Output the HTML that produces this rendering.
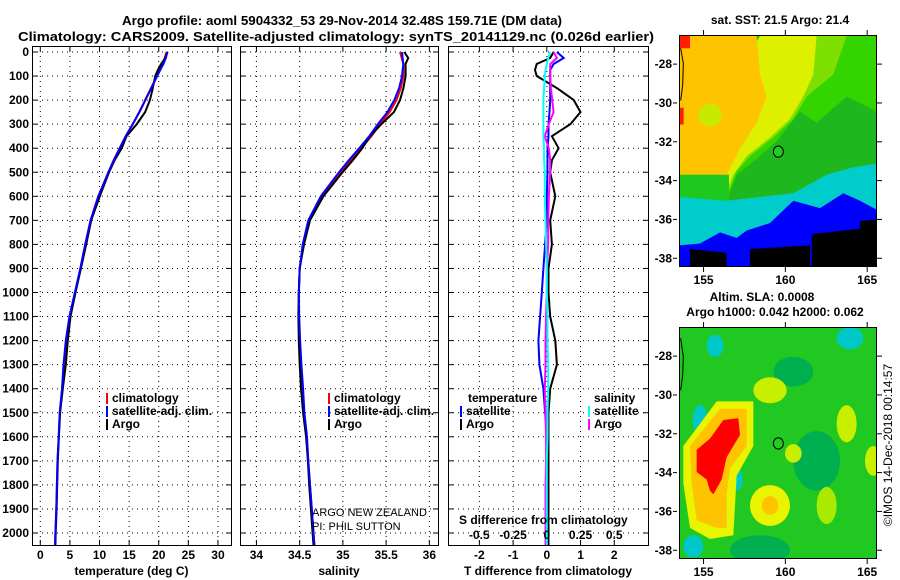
<!DOCTYPE html>
<html><head><meta charset="utf-8"><style>
html,body{margin:0;padding:0;background:#fff}
svg{display:block;font-family:"Liberation Sans",sans-serif;font-weight:bold}
</style></head><body>
<svg id="fig" width="900" height="580" viewBox="0 0 900 580" xmlns="http://www.w3.org/2000/svg">
<rect width="900" height="580" fill="#fff"/>
<text x="342" y="25" font-size="13" text-anchor="middle" textLength="440" lengthAdjust="spacingAndGlyphs">Argo profile: aoml 5904332_53 29-Nov-2014 32.48S 159.71E (DM data)</text>
<text x="336" y="41" font-size="13" text-anchor="middle" textLength="636" lengthAdjust="spacingAndGlyphs">Climatology: CARS2009. Satellite-adjusted climatology: synTS_20141129.nc (0.026d earlier)</text>
<g id="panels"></g>

<!-- Map 1: SST -->
<g>
<text x="780" y="24" font-size="12" text-anchor="middle">sat. SST: 21.5 Argo: 21.4</text>
<clipPath id="c1"><rect x="679" y="35" width="198" height="232"/></clipPath>
<g clip-path="url(#c1)"><g transform="translate(660,0) scale(0.3333,0.3717)">
<rect x="57" y="96" width="600" height="630" fill="#1eb81e"/>
<polygon fill="#33d400" points="300,96 652,96 652,300 560,260 470,330 420,300 350,380 300,420 230,470 200,540 57,540 57,470"/>
<polygon fill="#7ee000" points="470,96 560,96 520,200 440,260 400,320 340,370 270,420 230,460 200,530 57,530 57,470"/>
<polygon fill="#ddf000" points="300,96 470,96 460,200 430,260 390,320 330,370 260,420 220,470 195,525 57,500"/>
<polygon fill="#ffc400" points="57,96 290,96 300,200 320,260 290,330 240,400 200,470 175,525 90,520 57,470"/>
<ellipse cx="150" cy="310" rx="35" ry="30" fill="#c8ea00"/>
<rect x="57" y="470" width="150" height="70" fill="#1ec81e"/>
<rect x="57" y="96" width="33" height="34" fill="#ff1e00"/>
<rect x="57" y="290" width="14" height="45" fill="#ff1e00"/>
<polygon fill="#00cccc" points="57,530 200,540 300,530 400,520 500,470 580,450 652,440 652,726 57,726"/>
<polygon fill="#0000ff" points="57,660 120,655 180,625 230,640 260,620 330,600 400,540 480,560 550,520 600,540 652,565 652,726 57,726"/>
<polygon fill="#000" points="455,630 600,615 600,595 652,590 652,726 455,726"/>
<polygon fill="#000" points="90,670 200,680 200,726 90,726"/>
<polygon fill="#000" points="270,670 450,660 450,726 270,726"/>
<polyline fill="none" stroke="#000" stroke-width="3" points="62,130 70,170 68,230 62,270"/>
<circle cx="355" cy="408" r="15" fill="#22cc22" stroke="#000" stroke-width="3"/>
</g></g>
<rect x="679.5" y="35.5" width="197" height="231" fill="none" stroke="#000"/>
</g>

<!-- Map 2: SLA -->
<g>
<text x="762" y="301" font-size="12" text-anchor="middle">Altim. SLA: 0.0008</text>
<text x="775" y="316" font-size="12" text-anchor="middle">Argo h1000: 0.042 h2000: 0.062</text>
<clipPath id="c2"><rect x="679" y="327" width="198" height="232"/></clipPath>
<g clip-path="url(#c2)"><g transform="translate(660,0) scale(0.3333,0.3717)">
<rect x="57" y="880" width="600" height="630" fill="#22c822"/>
<ellipse cx="400" cy="1000" rx="60" ry="40" fill="#00b050"/>
<ellipse cx="470" cy="1240" rx="70" ry="80" fill="#00b050"/>
<ellipse cx="300" cy="1480" rx="90" ry="40" fill="#00b050"/>
<ellipse cx="165" cy="930" rx="25" ry="30" fill="#00c8c8"/>
<ellipse cx="120" cy="1130" rx="22" ry="40" fill="#00c8c8"/>
<ellipse cx="570" cy="910" rx="40" ry="30" fill="#00c8c8"/>
<ellipse cx="230" cy="1290" rx="18" ry="30" fill="#00c8c8"/>
<ellipse cx="100" cy="1470" rx="30" ry="30" fill="#00c8c8"/>
<ellipse cx="330" cy="1050" rx="50" ry="35" fill="#c8ee00"/>
<ellipse cx="560" cy="1140" rx="30" ry="50" fill="#c8ee00"/>
<ellipse cx="400" cy="1220" rx="25" ry="25" fill="#c8ee00"/>
<ellipse cx="640" cy="1240" rx="25" ry="40" fill="#c8ee00"/>
<ellipse cx="500" cy="1360" rx="30" ry="50" fill="#aaea00"/>
<ellipse cx="330" cy="1360" rx="60" ry="55" fill="#e8f400"/>
<ellipse cx="330" cy="1360" rx="25" ry="25" fill="#ffc400"/>
<polygon fill="#e8f400" points="70,1200 170,1080 280,1080 280,1200 230,1280 220,1440 150,1450 90,1420 70,1300"/>
<polygon fill="#ffc400" points="90,1200 180,1100 260,1100 260,1200 210,1260 200,1330 200,1420 170,1420 110,1400 95,1300"/>
<polygon fill="#ff0000" points="190,1130 235,1125 240,1170 200,1230 185,1290 160,1330 150,1320 140,1290 110,1270 110,1210 150,1180"/>
<polyline fill="none" stroke="#000" stroke-width="3" points="62,910 70,960 68,1010 62,1050"/>
<circle cx="355" cy="1193" r="15" fill="#22cc22" stroke="#000" stroke-width="3"/>
</g></g>
<rect x="679.5" y="327.5" width="197" height="231" fill="none" stroke="#000"/>
<text transform="translate(892,445) rotate(-90)" font-size="12" font-weight="normal" text-anchor="middle">©IMOS 14-Dec-2018 00:14:57</text>
</g>
<g id="mapaxes"></g>
</svg>
<script>
// ---- profile data ----
const depths = [0,25,50,75,100,150,200,250,300,350,400,450,500,600,700,800,900,1000,1100,1200,1300,1400,1500,1600,1700,1800,1900,2000,2050];
const tClim = [21.3,21.0,20.7,20.2,19.7,18.7,17.7,16.7,15.6,14.4,13.4,12.4,11.5,9.8,8.5,7.6,6.8,5.9,5.0,4.4,4.0,3.7,3.3,3.1,2.9,2.8,2.7,2.55,2.5];
const tSatDiff = [0.3,0.5,0.2,0.1,0.1,0.1,0.1,0.08,0.05,0.05,0.02,0.02,0.02,0.0,0.0,-0.05,-0.1,-0.15,-0.2,-0.25,-0.22,-0.1,-0.05,0,0,0,0,0,0];
const tArgoDiff = [0.2,0.1,-0.3,-0.35,-0.3,0.3,0.8,1.0,0.7,0.15,0.35,0.15,0.1,0.25,0.1,0.15,0.05,0.05,0.1,0.25,0.3,0.1,0.05,0.05,0.05,0.05,0.05,0.05,0.05];
const sClim = [35.66,35.68,35.7,35.7,35.7,35.67,35.62,35.54,35.43,35.33,35.21,35.09,34.97,34.76,34.61,34.54,34.5,34.49,34.49,34.5,34.51,34.53,34.55,34.58,34.6,34.62,34.64,34.66,34.67];
const sSatDiff = [0.025,0.01,0,-0.01,-0.015,-0.02,-0.025,-0.025,-0.025,-0.025,-0.02,-0.02,-0.015,-0.015,-0.01,-0.005,0,0,0.005,0.005,0.01,0.01,0.005,0.005,0,0,0,0,0];
const sArgoDiff = [0.05,0.075,0.025,0.025,0.025,0.03,0.04,0.05,0.015,-0.015,0.015,0.025,0.025,0.015,0.01,0.01,0,0,-0.005,-0.01,-0.01,-0.015,-0.01,-0.005,-0.005,-0.01,-0.01,-0.01,-0.01];
const depthTicks = [0,100,200,300,400,500,600,700,800,900,1000,1100,1200,1300,1400,1500,1600,1700,1800,1900,2000];
const tempTicks = [0,5,10,15,20,25,30];
const salTicks = [34,34.5,35,35.5,36];
const salTickLabels = ["34","34.5","35","35.5","36"];
const tdiffTicks = [-2,-1,0,1,2];
const sdiffTicks = [-0.5,-0.25,0,0.25,0.5];
const sdiffTickLabels = ["-0.5","-0.25","0","0.25","0.5"];
const lonTicks = [155,160,165];
const latTicks = [-28,-30,-32,-34,-36,-38];

const NS = "http://www.w3.org/2000/svg";
const root = document.getElementById('panels');
function el(tag, attrs, parent){const e=document.createElementNS(NS,tag);for(const k in attrs)e.setAttribute(k,attrs[k]);(parent||root).appendChild(e);return e;}
const yTop=52, yPer=0.2405, plotTop=46, plotBot=545;
function yD(d){return yTop + d*yPer;}
function mkX(x0,x1,v0,v1){return v=>x0+(v-v0)*(x1-x0)/(v1-v0);}

const panels=[
 {name:'temperature-panel',x0:32,x1:231,v0:-1.4,v1:32.2,ticks:tempTicks,labels:tempTicks.map(String),title:'temperature (deg C)'},
 {name:'salinity-panel',x0:240,x1:438,v0:33.81,v1:36.1,ticks:salTicks,labels:salTickLabels,title:'salinity'},
 {name:'difference-panel',x0:448,x1:648,v0:-2.93,v1:3.0,ticks:tdiffTicks,labels:tdiffTicks.map(String),title:'T difference from climatology'}
];
panels.forEach((p,pi)=>{
  const g=el('g',{});
  
  
  const xs=mkX(p.x0,p.x1,p.v0,p.v1);
  p.xs=xs;
  depthTicks.forEach(d=>{
    el('line',{x1:p.x0,x2:p.x1,y1:yD(d),y2:yD(d),stroke:'#000','stroke-dasharray':'1,4','stroke-width':1},g);
    el('line',{x1:p.x0,x2:p.x0+5,y1:yD(d),y2:yD(d),stroke:'#000'},g);
    el('line',{x1:p.x1-5,x2:p.x1,y1:yD(d),y2:yD(d),stroke:'#000'},g);
  });
  p.ticks.forEach((t,i)=>{
    const x=xs(t);
    el('line',{x1:x,x2:x,y1:plotTop,y2:plotBot,stroke:'#000','stroke-dasharray':'1,4'},g);
    el('line',{x1:x,x2:x,y1:plotTop,y2:plotTop+5,stroke:'#000'},g);
    el('line',{x1:x,x2:x,y1:plotBot-5,y2:plotBot,stroke:'#000'},g);
    const tx=el('text',{x:x,y:559,'font-size':12,'text-anchor':'middle'},g);
    
    
    tx.textContent=p.labels[i];
  });
  el('rect',{x:p.x0+0.5,y:plotTop+0.5,width:p.x1-p.x0,height:plotBot-plotTop,fill:'none',stroke:'#000'},g);
  const tt=el('text',{x:(p.x0+p.x1)/2,y:575,'font-size':12,'text-anchor':'middle'},g);
  
  
  tt.textContent=p.title;
});
depthTicks.forEach(d=>{
  const t=el('text',{x:29,y:yD(d)+4,'font-size':12,'text-anchor':'end'});
  
  
  t.textContent=String(d);
});
function line(name,xs,vals,color){
  const pts=depths.map((d,i)=>xs(vals[i]).toFixed(1)+','+yD(d).toFixed(1)).join(' ');
  const l=el('polyline',{points:pts,fill:'none',stroke:color,'stroke-width':2});
  
  
}
const P=panels;
line('temp-climatology-line',P[0].xs,tClim,'#f00');
line('temp-argo-line',P[0].xs,tClim.map((v,i)=>v+tArgoDiff[i]),'#000');
line('temp-satellite-line',P[0].xs,tClim.map((v,i)=>v+tSatDiff[i]*0.4),'#00f');
line('sal-climatology-line',P[1].xs,sClim,'#f00');
line('sal-argo-line',P[1].xs,sClim.map((v,i)=>v+sArgoDiff[i]),'#000');
line('sal-satellite-line',P[1].xs,sClim.map((v,i)=>v+sSatDiff[i]),'#00f');
const sx=v=>P[2].xs(v*4);
line('tdiff-argo-line',P[2].xs,tArgoDiff,'#000');
line('tdiff-satellite-line',P[2].xs,tSatDiff,'#00f');
line('sdiff-argo-line',sx,sArgoDiff,'#f0f');
line('sdiff-satellite-line',sx,sSatDiff,'#0ff');
sdiffTicks.forEach((t,i)=>{
  const tx=el('text',{x:sx(t),y:539,'font-size':12,'text-anchor':'middle'});
  
  
  tx.textContent=sdiffTickLabels[i];
});
function txt(name,x,y,s,opts){const t=el('text',Object.assign({x:x,y:y,'font-size':12},opts||{}));t.textContent=s;return t;}
txt('sdiff-axis-title',459,524,'S difference from climatology');
txt('argo-nz-label',312,516,'ARGO NEW ZEALAND',{'font-weight':'normal','font-size':11});
txt('pi-label',312,530,'PI: PHIL SUTTON',{'font-weight':'normal','font-size':11});
function leg(name,x,y,color,label){
  const r=el('rect',{x:x,y:y-9,width:2,height:11,fill:color});
  
  
  txt(name,x+6,y,label);
}
leg('legend-climatology',106,402,'#f00','climatology');
leg('legend-satellite-adj',106,415,'#00f','satellite-adj. clim.');
leg('legend-argo',106,428,'#000','Argo');
leg('legend-sal-climatology',328,402,'#f00','climatology');
leg('legend-sal-satellite-adj',328,415,'#00f','satellite-adj. clim.');
leg('legend-sal-argo',328,428,'#000','Argo');
txt('legend-temperature-heading',468,402,'temperature');
leg('legend-t-satellite',460,415,'#00f','satellite');
leg('legend-t-argo',460,428,'#000','Argo');
txt('legend-salinity-heading',594,402,'salinity');
leg('legend-s-satellite',588,415,'#0ff','satellite');
leg('legend-s-argo',588,428,'#f0f','Argo');
const ma=document.getElementById('mapaxes');
const lonX=mkX(679,877,153.5,165.6);
[[35,267,280],[327,559,572]].forEach((m,mi)=>{
  const latY=mkX(m[0],m[1],-26.5,-38.45);
  lonTicks.forEach(v=>{
    el('line',{x1:lonX(v),x2:lonX(v),y1:m[0],y2:m[0]-5,stroke:'#000'},ma);
    el('line',{x1:lonX(v),x2:lonX(v),y1:m[1],y2:m[1]+5,stroke:'#000'},ma);
    const t=el('text',{x:lonX(v),y:m[2]+4,'font-size':12,'text-anchor':'middle'},ma);
    
    
    t.textContent=String(v);
  });
  latTicks.forEach(v=>{
    el('line',{x1:677,x2:673,y1:latY(v),y2:latY(v),stroke:'#000'},ma);
    el('line',{x1:877,x2:882,y1:latY(v),y2:latY(v),stroke:'#000'},ma);
    const t=el('text',{x:672,y:latY(v)+4,'font-size':12,'text-anchor':'end'},ma);
    
    
    t.textContent=String(v);
  });
});
</script>
</body></html>
